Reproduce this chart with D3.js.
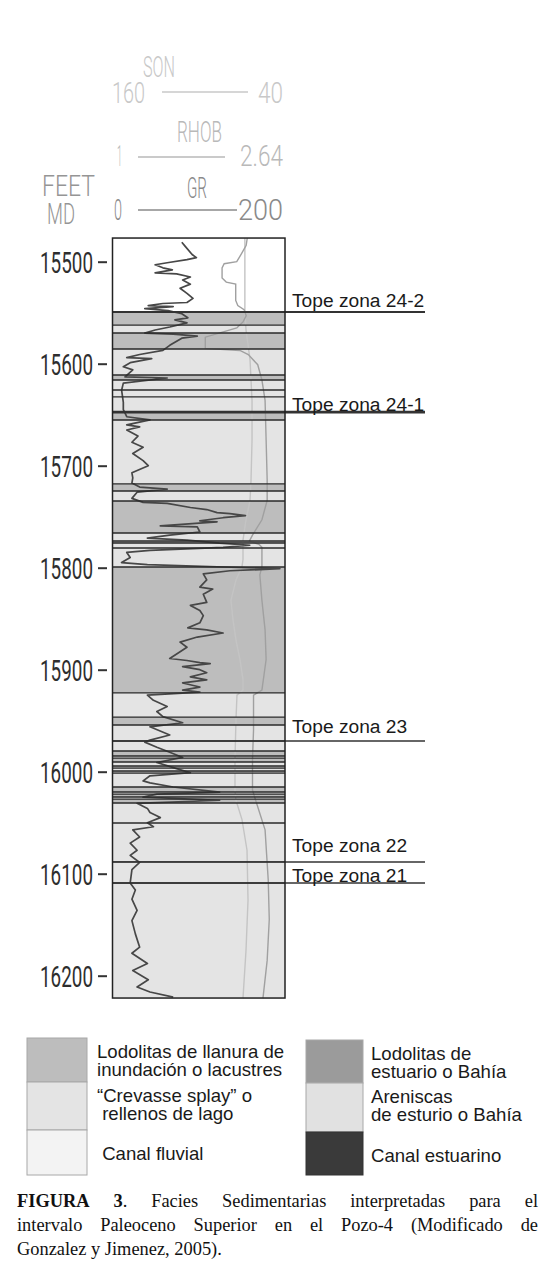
<!DOCTYPE html>
<html><head><meta charset="utf-8">
<script src="https://cdn.jsdelivr.net/npm/d3@7"></script>
<style>body{margin:0;background:#fff}svg{display:block}</style>
</head><body>
<script>
// ---------------- DATA ----------------
const depthTicks = [15500,15600,15700,15800,15900,16000,16100,16200];
const trackTopDepth = 15476.8, trackBaseDepth = 16221.9;

const bedTop = [15476.8,15549.3,15562.1,15569.9,15585.6,15611.1,15616.0,15625.8,15632.6,15647.4,
  15655.2,15717.9,15724.8,15734.6,15766.0,15773.8,15775.8,15780.7,15799.3,15922.8,
  15946.4,15954.2,15969.9,15979.7,15984.6,15986.6,15990.5,15994.4,15996.4,15999.3,
  16001.3,16015.0,16019.9,16021.9,16024.8,16026.8,16030.7,16050.3,16088.5,16109.1];
const bedFacies = ["none","llanura","crevasse","llanura","crevasse","llanura","crevasse","crevasse","crevasse","llanura",
  "crevasse","llanura","crevasse","llanura","crevasse","llanura","crevasse","crevasse","llanura","crevasse",
  "llanura","crevasse","crevasse","llanura","crevasse","llanura","crevasse","llanura","crevasse","llanura",
  "crevasse","llanura","crevasse","llanura","crevasse","llanura","crevasse","crevasse","crevasse","crevasse"];

const grDepth = [15481,15485,15493,15496,15498,15501,15503,15506,15508,15511,15512,15515,15518,15522,15526,15531,15536,15540,15541,15543,
  15544,15546,15548,15551,15555,15557,15560,15564,15567,15570,15571,15573,15575,15582,15587,15591,15594,15595,15599,15603,
  15606,15613,15614,15619,15626,15638,15645,15652,15655,15660,
  15662,15665,15671,15677,15682,15688,15695,15700,15707,15712,15717,15721,15723,15726,15732,15736,15737,15741,15743,15746,
  15747,15749,15751,15754,15755,15759,15760,15765,15768,15771,15773,15776,15778,15780,15783,15785,15790,15795,15797,15801,
  15803,15806,15812,15819,15821,15826,15834,15837,15842,
  15847,15854,15859,15861,15864,15868,15873,15878,15889,15891,15893,15894,15897,15900,15903,15907,15910,15913,15917,15920,
  15922,15925,15930,15936,15941,15946,15952,15956,15964,15969,15971,15976,15981,15986,15991,15997,16001,16004,16009,16011,
  16015,16020,16022,16025,16028,16031,16036,
  16040,16045,16050,16054,16057,16064,16070,16077,16082,16089,16096,16109,16116,16125,16136,16146,16159,16172,16178,16188,
  16195,16204,16211,16216,16221];
const grValue = [80,84,92,97,86,63,49,58,69,49,74,90,81,90,78,86,93,86,58,41,
  70,37,64,80,87,72,86,66,49,37,70,98,80,66,58,31,16,45,20,12,
  23,14,63,12,10,12,12,16,43,16,
  31,16,29,22,35,23,35,41,22,23,22,31,63,28,22,35,63,90,109,121,
  136,154,128,101,121,55,98,101,66,40,86,124,159,128,43,16,20,10,40,194,
  136,105,109,101,116,105,109,90,101,
  105,101,87,109,128,98,78,86,66,86,101,113,81,101,109,90,109,81,101,81,
  101,40,47,63,51,58,81,43,66,43,37,51,66,81,51,74,90,43,35,43,
  70,124,51,35,124,28,40,
  43,55,40,47,23,31,20,28,20,31,22,20,26,22,28,22,26,31,22,40,
  23,41,28,43,70];

const sonDepth = [15477,15547,15567,15596,15636,15675,15714,15734,15753,15773,15792,15799,15812,15832,15851,15871,15890,15910,15920,15925,
  15949,15988,16018,16028,16047,16077,16126,16175,16222];
const sonValue = [68,68,67.2,64.4,63,63,63.7,64.4,67.2,69.3,69.3,70,74.2,77.7,76.3,74.2,71.4,69.3,69.3,73.5,
  74.2,74.9,74.9,74.2,70,66.5,65.8,67.2,69.3];

const rhobDepth = [15477,15484,15493,15500,15502,15506,15516,15520,15522,15538,15543,15547,15553,15559,15565,15574,15585,15587,15591,15601,
  15616,15636,15675,15714,15734,15753,15768,15774,15777,15780,15799,15807,15832,15861,15890,15920,15925,15959,15988,16018,
  16028,16057,16106,16145,16185,16222];
const rhobValue = [2.28,2.27,2.22,2.18,2.06,2.04,2.04,2.08,2.17,2.17,2.19,2.25,2.27,2.24,2.18,1.88,1.88,2.21,2.29,2.38,
  2.42,2.45,2.46,2.47,2.47,2.42,2.33,2.30,2.39,2.42,2.42,2.40,2.42,2.45,2.46,2.42,2.34,2.34,2.33,2.33,
  2.36,2.45,2.48,2.49,2.47,2.43];

const grRange = [0,200], rhobRange = [1,2.64], sonRange = [160,40];

const topeNames = ["Tope zona 24-2","Tope zona 24-1","Tope zona 23","Tope zona 22","Tope zona 21"];
const topeDepth = [15549.3,15647.4,15969.9,16088.5,16109.1];

const faciesKeys = ["llanura","crevasse","fluvial","lodoEst","arenEst","canalEst"];
const faciesLabels = [["Lodolitas de llanura de","inundación o lacustres"],["\u201CCrevasse splay\u201D o"," rellenos de lago"],[" Canal fluvial"],
  ["Lodolitas de","estuario o Bahía"],["Areniscas","de esturio o Bahía"],["Canal estuarino"]];
const faciesColors = ["#bdbdbd","#e4e4e4","#f3f3f3","#9b9b9b","#e1e1e1","#3a3a3a"];

const captionLines = ["FIGURA 3. Facies Sedimentarias interpretadas para el",
  "intervalo Paleoceno Superior en el Pozo-4 (Modificado de",
  "Gonzalez y Jimenez, 2005)."];

// ---------------- DRAW ----------------
const W=546,H=1265;
const svg=d3.select('body').append('svg').attr('width',W).attr('height',H);
svg.append('rect').attr('width',W).attr('height',H).attr('fill','#fff');

const X0=112.5, X1=285;
const y=d3.scaleLinear().domain([15500,16200]).range([261.7,975.7]);
const xGR=d3.scaleLinear().domain(grRange).range([113,285]);
const xRHOB=d3.scaleLinear().domain(rhobRange).range([113,285]);
const xSON=d3.scaleLinear().domain(sonRange).range([113,285]);
const colorOf = k => k==="none" ? "#ffffff" : faciesColors[faciesKeys.indexOf(k)];

const NARROW="Roboto, Liberation Sans, sans-serif";
function fitText(g, str, x0, x1, base, fill, weight){
  const t=g.append('text').attr('font-family',NARROW).attr('font-size',29.5)
    .attr('font-weight',weight||300).attr('fill',fill).text(str);
  const w=t.node().getComputedTextLength();
  t.attr('transform',`translate(${x0},${base}) scale(${(x1-x0)/w},1)`);
  return t;
}

// header
const hd=svg.append('g');
const cSON="#c8c8c8", cRHOB="#b9b9b9", cGR="#8a8a8a", cFT="#959595";
fitText(hd,"SON",143,175,77,cSON);
fitText(hd,"160",112,145,103,cSON);
fitText(hd,"40",258,283,103,cSON);
hd.append('line').attr('x1',162).attr('x2',248).attr('y1',92).attr('y2',92).attr('stroke',cSON).attr('stroke-width',1.3);
fitText(hd,"RHOB",177,222,142,cRHOB);
fitText(hd,"1",117,122,166,cRHOB);
fitText(hd,"2.64",240,283,166,cRHOB);
hd.append('line').attr('x1',138).attr('x2',225).attr('y1',157).attr('y2',157).attr('stroke',cRHOB).attr('stroke-width',1.3);
fitText(hd,"GR",187,207,198,cGR);
fitText(hd,"0",114,122,220,cGR);
fitText(hd,"200",238,283,220,cGR);
hd.append('line').attr('x1',138).attr('x2',237).attr('y1',210).attr('y2',210).attr('stroke',cGR).attr('stroke-width',1.3);
fitText(hd,"FEET",42,95,196,cFT);
fitText(hd,"MD",47,75,224,cFT);

// beds
const bedBase = bedTop.slice(1).concat([trackBaseDepth]);
const beds = bedTop.map((t,i)=>({top:t,base:bedBase[i],f:bedFacies[i]}));
const track=svg.append('g');
track.selectAll('rect.bed').data(beds).join('rect').attr('class','bed')
  .attr('x',X0).attr('width',X1-X0)
  .attr('y',d=>y(d.top)).attr('height',d=>y(d.base)-y(d.top))
  .attr('fill',d=>colorOf(d.f));

// curves
const line=(xs)=>d3.line().x(d=>xs(d[1])).y(d=>y(d[0]));
const son = sonDepth.map((d,i)=>[d,sonValue[i]]);
const rhob = rhobDepth.map((d,i)=>[d,rhobValue[i]]);
const gr = grDepth.map((d,i)=>[d,grValue[i]]);
track.append('path').attr('d',line(xSON)(son)).attr('fill','none').attr('stroke','#c4c4c4').attr('stroke-width',1.4);
track.append('path').attr('d',line(xRHOB)(rhob)).attr('fill','none').attr('stroke','#a0a0a0').attr('stroke-width',1.4);
track.append('path').attr('d',line(xGR)(gr)).attr('fill','none').attr('stroke','#474747').attr('stroke-width',1.7).attr('stroke-linejoin','round');

// bed boundaries
track.selectAll('line.bb').data(bedTop.slice(1)).join('line').attr('class','bb')
  .attr('x1',X0).attr('x2',X1).attr('y1',d=>y(d)).attr('y2',d=>y(d))
  .attr('stroke','#2a2a2a').attr('stroke-width',1.3);

// tops
const topeW=[2,2.8,1.5,1.5,1.5];
const tg=svg.append('g');
topeDepth.forEach((d,i)=>{
  tg.append('line').attr('x1',X0).attr('x2',425).attr('y1',y(d)).attr('y2',y(d))
    .attr('stroke','#333').attr('stroke-width',topeW[i]);
});
const topeLabelOffset=[-5,-1.5,-8,-10,-0.5];
tg.selectAll('text').data(topeNames).join('text')
  .attr('x',292).attr('y',(d,i)=>y(topeDepth[i])+topeLabelOffset[i])
  .attr('font-family','Liberation Sans, Arial, sans-serif').attr('font-size',19.2).attr('fill','#1a1a1a')
  .text(d=>d);

// track border
svg.append('rect').attr('x',X0).attr('y',y(trackTopDepth)).attr('width',X1-X0)
  .attr('height',y(trackBaseDepth)-y(trackTopDepth)).attr('fill','none').attr('stroke','#222').attr('stroke-width',1.5);

// depth axis
const ax=svg.append('g').attr('transform','translate(107,0)')
  .call(d3.axisLeft(y).tickValues(depthTicks).tickSize(9).tickFormat(d3.format('d')));
ax.select('.domain').remove();
ax.selectAll('line').attr('stroke','#333').attr('stroke-width',2);
ax.attr('font-family',NARROW).attr('font-size',29.5);
ax.selectAll('text').attr('fill','#2e2e2e').attr('font-weight',400).each(function(){
  const w=this.getComputedTextLength();
  d3.select(this).attr('x',null).attr('dy',null).attr('text-anchor','end')
    .attr('transform',`translate(-14,10.5) scale(${53/w},1)`);
});

// legend
const lg=svg.append('g');
const boxX=[27,306], boxW=[60,57];
const rowTops=[[1038,1082,1130,1175],[1040,1083,1132,1175]];
const txtX=[97,371];
faciesKeys.forEach((k,i)=>{
  const col=Math.floor(i/3), row=i%3;
  const t0=rowTops[col][row], t1=rowTops[col][row+1];
  lg.append('rect').attr('x',boxX[col]).attr('y',t0).attr('width',boxW[col]).attr('height',t1-t0)
    .attr('fill',faciesColors[i]).attr('stroke',col===1&&row===2?'#333':'#a8a8a8').attr('stroke-width',1);
  const lines=faciesLabels[i];
  const bases = lines.length===2 ? [t0+20,t0+37.5] : [t0+30];
  lines.forEach((s,j)=>{
    lg.append('text').attr('x',txtX[col]).attr('y',bases[j])
      .attr('font-family','Liberation Sans, Arial, sans-serif').attr('font-size',18.6).attr('fill','#1a1a1a')
      .attr('xml:space','preserve').style('white-space','pre').text(s);
  });
});

// caption (justified)
const capX0=17, capX1=538, capY=[1207,1231,1255];
captionLines.forEach((ln,i)=>{
  const words=ln.split(' ');
  const g=svg.append('g');
  const nodes=words.map(w=>{
    const t=g.append('text').attr('y',capY[i]).attr('font-family','Liberation Serif, Times New Roman, serif')
      .attr('font-size',18.4).attr('fill','#111');
    if(i===0 && w==='FIGURA') t.append('tspan').attr('font-weight','bold').text(w);
    else if(i===0 && w==='3.'){ t.append('tspan').attr('font-weight','bold').text('3'); t.append('tspan').text('.'); }
    else t.text(w);
    return t;
  });
  const widths=nodes.map(n=>n.node().getComputedTextLength());
  const total=d3.sum(widths);
  const last=i===captionLines.length-1;
  const gap= last ? 4.6 : (capX1-capX0-total)/(words.length-1);
  let x=capX0;
  nodes.forEach((n,j)=>{ n.attr('x',x); x+=widths[j]+gap; });
});
</script>
</body></html>
